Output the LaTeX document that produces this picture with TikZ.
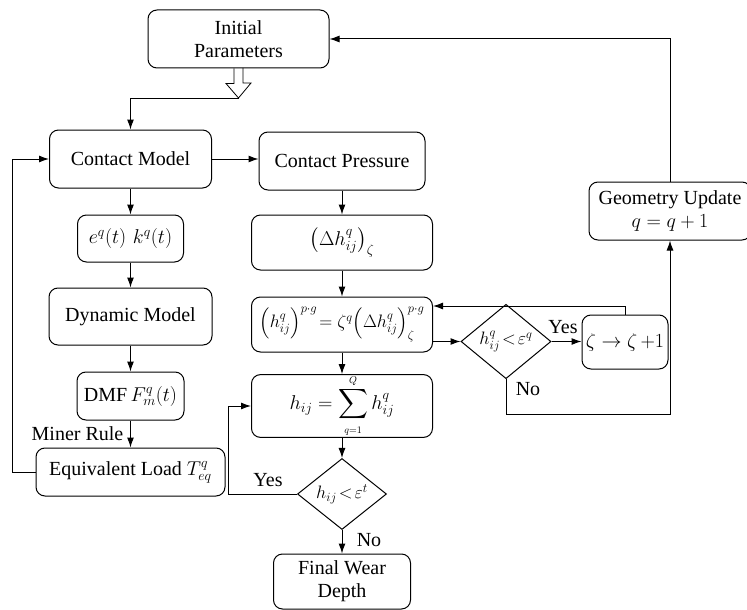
\documentclass[tikz,border=0pt]{standalone}
\usepackage{fix-cm}
\usepackage{exscale}
\usepackage[no-math]{fontspec}
\setmainfont{Liberation Serif}
\newfontfamily\timesx{Liberation Serif}
\usetikzlibrary{arrows.meta,shapes.geometric}

\begin{document}
\begin{tikzpicture}
  [x=1pt,y=-1pt,line width=1pt,
   every node/.style={font=\timesx\fontsize{20}{23}\selectfont,inner sep=0pt},
   box/.style={draw,rounded corners=9pt,align=center},
   bx/.style 2 args={box,minimum width=#1,minimum height=#2},
   dia/.style={draw,diamond,inner sep=0pt,font=\timesx\fontsize{18}{21}\selectfont},
   arr/.style={-{Latex[length=10pt,width=7pt]}}]
  \useasboundingbox (0,0) rectangle (747,610);

  \node[bx={181pt}{58pt}] (init) at (238.5,39) {Initial\\Parameters};
  \node[bx={162pt}{58pt}] (cm) at (130.5,159) {Contact Model};
  \node[bx={166pt}{58pt}] (cp) at (342,161) {Contact Pressure};
  \node[bx={106pt}{47pt}] (ek) at (130.5,238.5) {$e^{q}\!\left(t\right)\,k^{q}\!\left(t\right)$};
  \node[bx={163pt}{57pt}] (dyn) at (130.5,316.5) {Dynamic Model};
  \node[bx={107pt}{48pt}] (dmf) at (130.5,396) {DMF\,$F_{m}^{q}\!\left(t\right)$};
  \node[bx={189pt}{48pt}] (eql) at (130.5,472) {Equivalent Load $T_{eq}^{q}$};

  \node[bx={181pt}{55pt}] (dh) at (342,242.5) {$\left(\Delta h_{ij}^{q}\right)_{\zeta}$};
  \node[bx={181pt}{55pt},font=\timesx\fontsize{18}{21}\selectfont] (pg) at (342,324.5)
    {$\left(h_{ij}^{q}\right)^{p\cdot g}\!=\zeta^{q}\!\left(\Delta h_{ij}^{q}\right)_{\zeta}^{p\cdot g}$};
  \node[bx={181pt}{54pt}] (sum) at (342,406)
    {$h_{ij}=\displaystyle\sum_{\scriptscriptstyle q=1}^{\scriptscriptstyle Q}h_{ij}^{q}$};
  \node[dia,minimum width=89pt,minimum height=64pt] (dt) at (342,494) {$h_{ij}\!<\!\varepsilon^{t}$};
  \node[bx={137pt}{55pt}] (fwd) at (342,581.5) {Final Wear\\Depth};

  \node[dia,minimum width=90pt,minimum height=61pt] (dq) at (506,341.5) {$h_{ij}^{q}\!<\!\varepsilon^{q}$};
  \node[bx={86pt}{54pt}] (zeta) at (625,342) {$\zeta\rightarrow\zeta\,{+}1$};
  \node[bx={162pt}{58pt}] (geo) at (670,211) {Geometry Update\\$q=q+1$};

  % labels
  \node (miner) at (77.5,434) {Miner Rule};
  \node (yq) at (563,327) {Yes};
  \node (nq) at (528,389) {No};
  \node (yt) at (268,480) {Yes};
  \node (nt) at (369,540) {No};

  % hollow arrow
  \coordinate (tip) at (238.5,98);
  \draw[line width=0.8pt] (init.south) ++(-4.5,0) -- ++(0,15) -- ++(-8,0) -- (tip)
    -- ++(12.5,-15) -- ++(-8,0) -- ++(0,-15);
  \draw[arr] (tip) -| (cm.north);

  \foreach \from/\to in {cm/ek,ek/dyn,dyn/dmf,dmf/eql,cp/dh,dh/pg,pg/sum,sum/dt,dt/fwd}
    \draw[arr] (\from) -- (\to);

  \draw[arr] (cm.east) -- (cm.east -| cp.west);
  \draw[arr] (eql.west) -- ++(-23,0) |- (cm.west);
  \draw[arr] (pg.east |- dq.west) -- (dq.west);
  \draw[arr] (dq.east) -- (dq.east -| zeta.west);
  \draw[arr] (zeta.north) |- ([yshift=18.5pt]pg.east);
  \draw[arr] (dq.south) -- ++(0,35) -| (geo.south);
  \draw[arr] (geo.north) |- (init.east);
  \draw[arr] (dt.west) -- ++(-69,0) |- (sum.west);

\end{tikzpicture}
\end{document}
